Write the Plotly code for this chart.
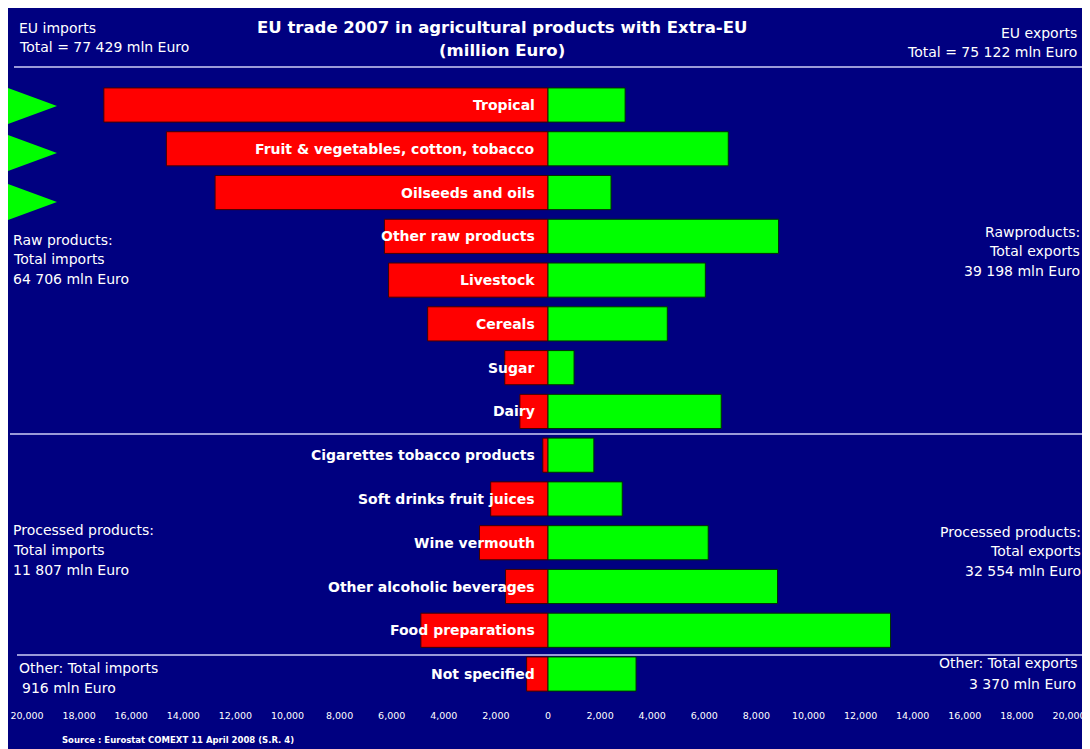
import plotly.graph_objects as go

categories = ["Tropical", "Fruit & vegetables, cotton, tobacco", "Oilseeds and oils",
              "Other raw products", "Livestock", "Cereals", "Sugar", "Dairy",
              "Cigarettes tobacco products", "Soft drinks fruit juices", "Wine vermouth",
              "Other alcoholic beverages", "Food preparations", "Not specified"]
imports = [17050, 14650, 12780, 6280, 6120, 4620, 1660, 1080,
           200, 2200, 2630, 1630, 4880, 820]
exports = [2960, 6920, 2420, 8850, 6040, 4580, 1000, 6650,
           1760, 2850, 6150, 8810, 13150, 3380]
tick_values = [-20000, -18000, -16000, -14000, -12000, -10000, -8000, -6000, -4000, -2000,
               0, 2000, 4000, 6000, 8000, 10000, 12000, 14000, 16000, 18000, 20000]
tick_labels = ["20,000", "18,000", "16,000", "14,000", "12,000", "10,000", "8,000", "6,000",
               "4,000", "2,000", "0", "2,000", "4,000", "6,000", "8,000", "10,000",
               "12,000", "14,000", "16,000", "18,000", "20,000"]

# page has an 8px body margin; reference pixel coords are offset by it
OFF = 8
FW, FH = 1090 - OFF, 749 - OFF
L, T = 27 - OFF, 70 - OFF
W, H = 1042, 636
R = FW - L - W
B = FH - T - H
NAVY = "#000080"
LINE = "#9a9ad8"
FONT = "DejaVu Sans"


def px(x):
    return (x - OFF - L) / W


def py(y):
    return 1 - (y - OFF - T) / H


fig = go.Figure()
fig.add_trace(go.Bar(y=categories, x=[-v for v in imports], orientation="h",
                     marker=dict(color="#ff0000", line=dict(color="#400000", width=1)),
                     width=0.78, name="Imports", hoverinfo="skip"))
fig.add_trace(go.Bar(y=categories, x=exports, orientation="h",
                     marker=dict(color="#00ff00", line=dict(color="#003000", width=1)),
                     width=0.78, name="Exports", hoverinfo="skip"))

annotations = []
for c in categories:
    annotations.append(dict(x=-420, y=c, xref="x", yref="y", text="<b>%s</b>" % c,
                            showarrow=False, xanchor="right", yanchor="middle",
                            font=dict(family=FONT, size=14, color="white")))


def txt(x, y, s, anchor="left", size=14, bold=False):
    annotations.append(dict(x=px(x), y=py(y), xref="paper", yref="paper",
                            text=("<b>%s</b>" % s) if bold else s, showarrow=False,
                            xanchor=anchor, yanchor="middle",
                            font=dict(family=FONT, size=size, color="white")))


txt(502, 28, "EU trade 2007 in agricultural products with Extra-EU", "center", 16.5, True)
txt(502, 51, "(million Euro)", "center", 16.5, True)
txt(17, 28, "EU imports")
txt(17, 47, "Total = 77 429 mln Euro")
txt(1079, 33, "EU exports", "right")
txt(1079, 52, "Total = 75 122 mln Euro", "right")
txt(11, 240, "Raw products:")
txt(11, 259, "Total imports")
txt(11, 279, "64 706 mln Euro")
txt(1082, 232, "Rawproducts:", "right")
txt(1082, 251, "Total exports", "right")
txt(1082, 271, "39 198 mln Euro", "right")
txt(11, 530, "Processed products:")
txt(11, 550, "Total imports")
txt(11, 570, "11 807 mln Euro")
txt(1083, 532, "Processed products:", "right")
txt(1083, 551, "Total exports", "right")
txt(1083, 571, "32 554 mln Euro", "right")
txt(17, 668, "Other: Total imports")
txt(20, 688, "916 mln Euro")
txt(1079, 663, "Other: Total exports", "right")
txt(1078, 684, "3 370 mln Euro", "right")
txt(60, 740, "Source : Eurostat COMEXT 11 April 2008 (S.R. 4)", "left", 8.5, True)

shapes = []
# separator lines
for yy, x0, x1 in [(67, 14, 1085), (434, 10, 1085), (655, 17, 1085)]:
    shapes.append(dict(type="line", xref="paper", yref="paper", x0=px(x0), x1=px(x1),
                       y0=py(yy), y1=py(yy), line=dict(color=LINE, width=2), layer="above"))
# green arrows at left
for cy in [106, 153, 202]:
    path = "M %f,%f L %f,%f L %f,%f Z" % (px(OFF), py(cy - 18), px(57), py(cy), px(OFF), py(cy + 18))
    shapes.append(dict(type="path", xref="paper", yref="paper", path=path,
                       fillcolor="#00ff00", line=dict(width=0), layer="above"))

fig.update_layout(
    width=FW, height=FH,
    margin=dict(l=L, r=R, t=T, b=B, pad=0, autoexpand=False),
    paper_bgcolor=NAVY, plot_bgcolor=NAVY,
    barmode="relative", bargap=0.2, showlegend=False,
    annotations=annotations, shapes=shapes,
    xaxis=dict(range=[-20000, 20000], tickvals=tick_values, ticktext=tick_labels,
               showgrid=False, zeroline=False, showline=False, ticks="outside",
               ticklen=1, tickcolor=NAVY, automargin=False, ticklabeloverflow="allow",
               tickfont=dict(family=FONT, size=9.5, color="white"), fixedrange=True),
    yaxis=dict(type="category", categoryorder="array", categoryarray=categories,
               range=[13.73, -0.80], showticklabels=False, showgrid=False, automargin=False,
               zeroline=False, showline=False, fixedrange=True),
)
fig.update_xaxes(tickprefix="<b>", ticksuffix="</b>")

fig.write_html("out.html", post_script="document.body.style.overflow='hidden';")
